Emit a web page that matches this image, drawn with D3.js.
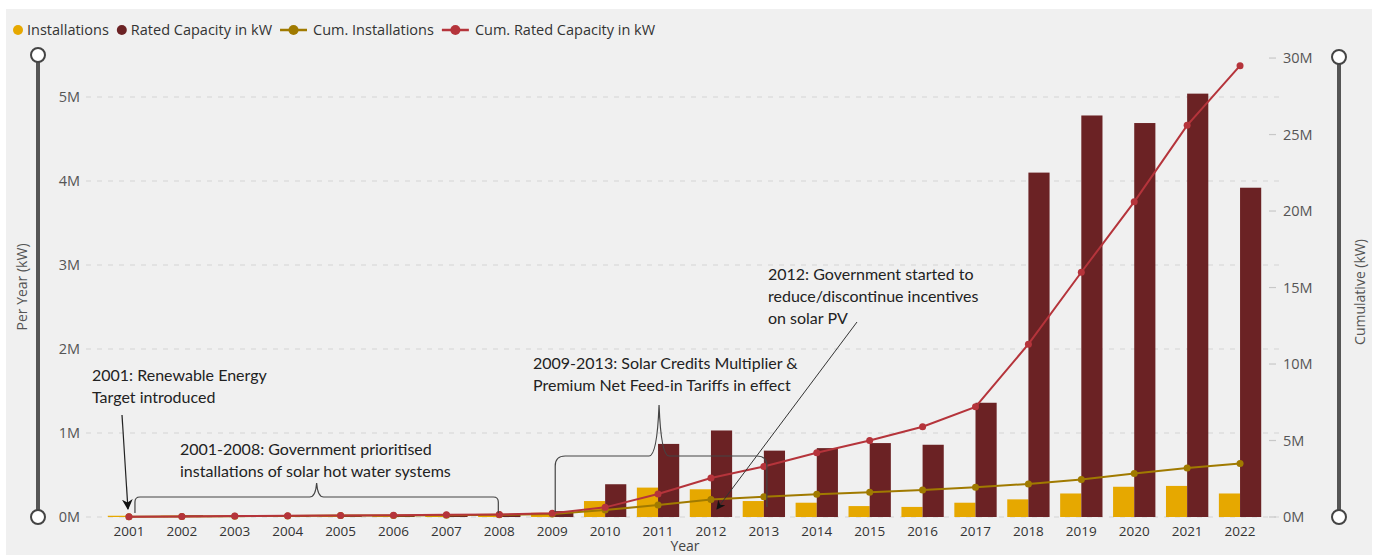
<!DOCTYPE html>
<html>
<head>
<meta charset="utf-8">
<script src="https://cdn.jsdelivr.net/npm/d3@7"></script>
<style>
  html, body { margin: 0; padding: 0; background: #fff; }
  svg { display: block; }
</style>
</head>
<body>
<svg id="chart" width="1376" height="555"></svg>
<script>
// Data (values in millions)
const years = ["2001","2002","2003","2004","2005","2006","2007","2008","2009","2010","2011",
  "2012","2013","2014","2015","2016","2017","2018","2019","2020","2021","2022"];
const installations = [0.015,0.015,0.015,0.015,0.015,0.015,0.015,0.02,0.05,0.19,0.35,
  0.33,0.19,0.17,0.13,0.12,0.17,0.21,0.28,0.36,0.37,0.28];
const ratedCapacity = [0.01,0.02,0.02,0.02,0.02,0.02,0.03,0.03,0.07,0.39,0.87,
  1.03,0.79,0.82,0.88,0.86,1.36,4.10,4.78,4.69,5.04,3.92];
const cumInstallations = [0.02,0.04,0.05,0.07,0.09,0.10,0.12,0.14,0.20,0.45,0.78,
  1.15,1.32,1.49,1.62,1.77,1.95,2.16,2.45,2.84,3.20,3.49];
const cumRatedCapacity = [0.02,0.04,0.06,0.08,0.10,0.12,0.14,0.17,0.24,0.63,1.50,
  2.55,3.30,4.20,5.00,5.90,7.20,11.3,16.0,20.6,25.6,29.5];
const leftTicks = [0,1,2,3,4,5];
const rightTicks = [0,5,10,15,20,25,30];

const legendItems = [
  { label: "Installations", type: "dot", color: "#E6A800" },
  { label: "Rated Capacity in kW", type: "dot", color: "#6B2224" },
  { label: "Cum. Installations", type: "line", color: "#A07A00" },
  { label: "Cum. Rated Capacity in kW", type: "line", color: "#B5343B" }
];

const svg = d3.select("#chart");
const W = 1376, H = 555;
const plot = { left: 102.5, right: 1266.5, top: 55, bottom: 517 };

svg.append("rect").attr("x", 6).attr("y", 9).attr("width", W - 10).attr("height", H - 9)
  .attr("fill", "#f0f0f0");

const x = d3.scaleBand().domain(years).range([plot.left, plot.right])
  .paddingInner(0.2).paddingOuter(0.1);
const yL = d3.scaleLinear().domain([0, 5.5]).range([plot.bottom, plot.top]);
const yR = d3.scaleLinear().domain([0, 30.2]).range([plot.bottom, plot.top]);
const cx = d => x(d) + x.bandwidth() / 2;

// Gridlines (left axis)
svg.append("g").selectAll("line").data(leftTicks).join("line")
  .attr("x1", 86).attr("x2", 1279)
  .attr("y1", d => yL(d)).attr("y2", d => yL(d))
  .attr("stroke", "#d4d4d4").attr("stroke-width", 1.2).attr("stroke-dasharray", "5,6");

// Left axis labels
svg.append("g").selectAll("text").data(leftTicks).join("text")
  .attr("x", 80).attr("y", d => yL(d)).attr("dy", "0.35em")
  .attr("text-anchor", "end")
  .style("font", "14.5px 'Open Sans', sans-serif").attr("fill", "#555")
  .text(d => d + "M");

// Right axis ticks + labels
svg.append("g").selectAll("line").data(rightTicks).join("line")
  .attr("x1", 1269).attr("x2", 1276)
  .attr("y1", d => yR(d)).attr("y2", d => yR(d))
  .attr("stroke", "#c8c8c8").attr("stroke-width", 1.2);
svg.append("g").selectAll("text").data(rightTicks).join("text")
  .attr("x", 1283).attr("y", d => yR(d)).attr("dy", "0.35em")
  .style("font", "14.5px 'Open Sans', sans-serif").attr("fill", "#555")
  .text(d => d + "M");

// Bars
svg.append("g").selectAll("rect").data(years).join("rect")
  .attr("x", d => x(d)).attr("width", x.bandwidth() / 2)
  .attr("y", (d, i) => yL(installations[i]))
  .attr("height", (d, i) => yL(0) - yL(installations[i]))
  .attr("fill", legendItems[0].color);
svg.append("g").selectAll("rect").data(years).join("rect")
  .attr("x", d => cx(d)).attr("width", x.bandwidth() / 2)
  .attr("y", (d, i) => yL(ratedCapacity[i]))
  .attr("height", (d, i) => yL(0) - yL(ratedCapacity[i]))
  .attr("fill", legendItems[1].color);

// Cumulative lines
function drawLine(values, color) {
  const line = d3.line().x((d, i) => cx(years[i])).y(d => yR(d));
  svg.append("path").datum(values).attr("d", line)
    .attr("fill", "none").attr("stroke", color).attr("stroke-width", 2);
  svg.append("g").selectAll("circle").data(values).join("circle")
    .attr("cx", (d, i) => cx(years[i])).attr("cy", d => yR(d)).attr("r", 3.5)
    .attr("fill", color);
}
drawLine(cumInstallations, legendItems[2].color);
drawLine(cumRatedCapacity, legendItems[3].color);

// X axis labels
svg.append("g").selectAll("text").data(years).join("text")
  .attr("x", d => cx(d)).attr("y", 531).attr("dy", "0.35em")
  .attr("text-anchor", "middle")
  .style("font", "13.5px 'Open Sans', sans-serif").attr("fill", "#333")
  .text(d => d);

// Axis titles
svg.append("text").attr("x", 685).attr("y", 546).attr("dy", "0.35em")
  .attr("text-anchor", "middle").style("font", "14px 'Open Sans', sans-serif")
  .attr("fill", "#444").text("Year");
svg.append("text").attr("transform", "translate(22,287) rotate(-90)").attr("dy", "0.35em")
  .attr("text-anchor", "middle").style("font", "14px 'Open Sans', sans-serif")
  .attr("fill", "#555").text("Per Year (kW)");
svg.append("text").attr("transform", "translate(1360,292) rotate(-90)").attr("dy", "0.35em")
  .attr("text-anchor", "middle").style("font", "14px 'Open Sans', sans-serif")
  .attr("fill", "#555").text("Cumulative (kW)");

// Range sliders
function slider(px, y0, y1) {
  svg.append("line").attr("x1", px).attr("x2", px).attr("y1", y0).attr("y2", y1)
    .attr("stroke", "#555").attr("stroke-width", 4);
  [y0, y1].forEach(yy => svg.append("circle").attr("cx", px).attr("cy", yy).attr("r", 7)
    .attr("fill", "#fff").attr("stroke", "#444").attr("stroke-width", 2));
}
slider(38, 55, plot.bottom);
slider(1339, 57, plot.bottom);

// Legend
const lg = svg.append("g").style("font", "14.5px 'Open Sans', sans-serif");
let lx = 13;
legendItems.forEach(it => {
  if (it.type === "dot") {
    lg.append("circle").attr("cx", lx + 5).attr("cy", 30).attr("r", 5).attr("fill", it.color);
    lx += 14;
  } else {
    lg.append("line").attr("x1", lx).attr("x2", lx + 27).attr("y1", 30).attr("y2", 30)
      .attr("stroke", it.color).attr("stroke-width", 2.5);
    lg.append("circle").attr("cx", lx + 13.5).attr("cy", 30).attr("r", 5).attr("fill", it.color);
    lx += 33;
  }
  const t = lg.append("text").attr("x", lx).attr("y", 30).attr("dy", "0.35em")
    .attr("fill", "#333").text(it.label);
  lx += t.node().getComputedTextLength() + 8;
});

// Annotations
const ann = svg.append("g").style("font", "16px Lato, sans-serif").attr("fill", "#222");
function note(tx, ty, lines) {
  lines.forEach((s, i) => ann.append("text").attr("x", tx).attr("y", ty + i * 22).text(s));
}
note(92, 381, ["2001: Renewable Energy", "Target introduced"]);
note(180, 455, ["2001-2008: Government prioritised", "installations of solar hot water systems"]);
note(533, 369, ["2009-2013: Solar Credits Multiplier &", "Premium Net Feed-in Tariffs in effect"]);
note(768, 280, ["2012: Government started to", "reduce/discontinue incentives", "on solar PV"]);

svg.append("defs").append("marker").attr("id", "arrow")
  .attr("viewBox", "0 0 10 10").attr("refX", 9).attr("refY", 5)
  .attr("markerWidth", 9).attr("markerHeight", 9).attr("orient", "auto")
  .append("path").attr("d", "M0,0 L10,5 L0,10 L3,5 Z").attr("fill", "#111");

svg.append("line").attr("x1", 122).attr("y1", 415).attr("x2", cx("2001") - 1).attr("y2", 509)
  .attr("stroke", "#222").attr("stroke-width", 1.2).attr("marker-end", "url(#arrow)");
svg.append("line").attr("x1", 857).attr("y1", 322).attr("x2", cx("2012") + 6).attr("y2", 509)
  .attr("stroke", "#333").attr("stroke-width", 1).attr("marker-end", "url(#arrow)");

// Braces
const bx1 = cx("2001") + 6, bx2 = cx("2008") - 1, bm = (bx1 + bx2) / 2;
svg.append("path")
  .attr("d", `M${bx1},513 L${bx1},502 Q${bx1},497 ${bx1 + 5},497 L${bm - 7},497 Q${bm - 1},497 ${bm},483 Q${bm + 1},497 ${bm + 7},497 L${bx2 - 5},497 Q${bx2},497 ${bx2},502 L${bx2},513`)
  .attr("fill", "none").attr("stroke", "#444").attr("stroke-width", 1.2);
const cx1 = cx("2009") + 3, cx2 = cx("2013") + 3, cm = cx("2011") + 1;
svg.append("path")
  .attr("d", `M${cx1},512 L${cx1},466 Q${cx1},456 ${cx1 + 10},456 L${cm - 10},456 Q${cm - 2},456 ${cm},405 Q${cm + 2},456 ${cm + 10},456 L${cx2 - 10},456 Q${cx2},456 ${cx2},466 L${cx2},507`)
  .attr("fill", "none").attr("stroke", "#444").attr("stroke-width", 1.2);
</script>
</body>
</html>
